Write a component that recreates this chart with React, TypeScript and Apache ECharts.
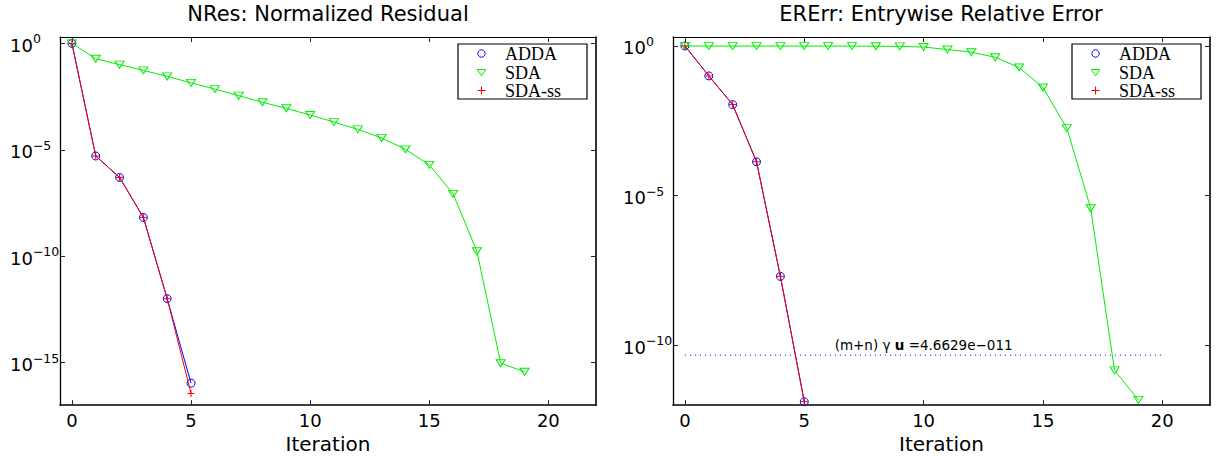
import React, { useEffect, useRef } from "react";
import * as echarts from "echarts";

// ---------- data ----------
const ITER_ADDA = [0, 1, 2, 3, 4, 5];
const ITER_SDA = [0, 1, 2, 3, 4, 5, 6, 7, 8, 9, 10, 11, 12, 13, 14, 15, 16, 17, 18, 19];

const NRES_ADDA = [1, 5.1e-6, 5.0e-7, 6.6e-9, 1.0e-12, 1.07e-16];
const NRES_SDA = [1, 0.19, 0.1, 0.054, 0.028, 0.014, 0.0071, 0.0035, 0.0017, 8.9e-4, 4.3e-4, 2.0e-4, 9.1e-5, 3.6e-5, 1.05e-5, 1.95e-6, 8.5e-8, 1.7e-10, 9.3e-16, 3.7e-16];
const NRES_SDASS = [1, 5.1e-6, 5.0e-7, 6.6e-9, 1.0e-12, 3.5e-17];

const ERERR_ADDA = [1, 0.1, 0.011, 1.35e-4, 2.0e-8, 1.3e-12];
const ERERR_SDA = [1, 0.99, 0.99, 0.99, 0.99, 0.99, 0.99, 0.99, 0.98, 0.97, 0.92, 0.76, 0.62, 0.42, 0.19, 0.041, 1.8e-3, 3.8e-6, 1.45e-11, 1.5e-12];
const ERERR_SDASS = [1, 0.1, 0.011, 1.35e-4, 2.0e-8, 1.3e-12];

const BOUND = 4.6629e-11;

const X_TICKS = [0, 5, 10, 15, 20];
const NRES_Y_EXP_TICKS = [0, -5, -10, -15];
const ERERR_Y_EXP_TICKS = [0, -5, -10];

const TITLES = ["NRes: Normalized Residual", "ERErr: Entrywise Relative Error"];
const NAMES = ["ADDA", "SDA", "SDA-ss"];
const X_NAME = "Iteration";

// ---------- style ----------
const SANS = "DejaVu Sans";
const SERIF = "Liberation Serif";
const BLUE = "#0000ff";
const GREEN = "#00ee00";
const RED = "#ff0000";
const TRI = "path://M0,0L10,0L5,8Z";
const PLUS = "path://M5,0L5,10M0,5L10,5";

const toLog = (xs: number[], vs: number[]) => xs.map((x, i) => [x, Math.log10(vs[i])]);

const fmtBound = (v: number) => {
  const [m, e] = v.toExponential(4).split("e");
  const n = parseInt(e, 10);
  const s = (n < 0 ? "\u2212" : "+") + String(Math.abs(n)).padStart(3, "0");
  return m + "e" + s;
};

const GRIDS = [
  { left: 60, top: 37, width: 536, height: 371 },
  { left: 673, top: 37, width: 537, height: 371 },
];

function makeXAxes(gi: number) {
  const common = {
    gridIndex: gi,
    type: "value",
    min: -0.5,
    max: 22,
    splitLine: { show: false },
    axisTick: { inside: true, length: 5, customValues: X_TICKS, lineStyle: { color: "#222", width: 1 } },
  };
  return [
    {
      ...common,
      position: "bottom",
      axisLine: { show: true, onZero: false, lineStyle: { color: "#000", width: 1.6 } },
      axisLabel: { customValues: X_TICKS, margin: 6, fontFamily: SANS, fontSize: 18, color: "#000" },
      name: X_NAME,
      nameLocation: "middle",
      nameGap: 24,
      nameTextStyle: { fontFamily: SANS, fontSize: 20, color: "#000" },
    },
    {
      ...common,
      position: "top",
      axisLine: { show: true, onZero: false, lineStyle: { color: "#000", width: 1 } },
      axisLabel: { show: false },
    },
  ];
}

function makeYAxes(gi: number, min: number, ticks: number[]) {
  const common = {
    gridIndex: gi,
    type: "value",
    min,
    max: 0.3,
    splitLine: { show: false },
    axisTick: { inside: true, length: 5, customValues: ticks, lineStyle: { color: "#222", width: 1 } },
  };
  return [
    {
      ...common,
      position: "left",
      axisLine: { show: true, onZero: false, lineStyle: { color: "#000", width: 1.3 } },
      axisLabel: {
        customValues: ticks,
        margin: 50,
        align: "left",
        formatter: (v: number) => {
          const e = Math.round(v);
          const s = e < 0 ? "\u2212" + String(-e) : String(e);
          return "{b|10}{s|" + s + "}";
        },
        rich: {
          b: { fontFamily: SANS, fontSize: 18, color: "#000", lineHeight: 22, verticalAlign: "bottom" },
          s: { fontFamily: SANS, fontSize: 12.5, color: "#000", lineHeight: 8, verticalAlign: "top" },
        },
      },
    },
    {
      ...common,
      position: "right",
      axisLine: { show: true, onZero: false, lineStyle: { color: "#000", width: 1.6 } },
      axisLabel: { show: false },
    },
  ];
}

function lineSeries(name: string, xi: number, yi: number, data: number[][], color: string, extra: any = {}) {
  return {
    name,
    type: "line",
    xAxisIndex: xi,
    yAxisIndex: yi,
    data,
    symbol: "none",
    silent: true,
    lineStyle: { color, width: 1 },
    itemStyle: { color },
    ...extra,
  };
}

function markerSeries(name: string, xi: number, yi: number, data: number[][], color: string, symbol: string, size: any) {
  return {
    name,
    type: "scatter",
    xAxisIndex: xi,
    yAxisIndex: yi,
    data,
    symbol,
    symbolSize: size,
    silent: true,
    itemStyle: { color: "rgba(0,0,0,0)", borderColor: color, borderWidth: 1, opacity: 1 },
  };
}

// legend box drawn with graphic elements (layout only, no data)
function legendGraphic(L: number) {
  const T = 44;
  const W = 129;
  const H = 55;
  const children: any[] = [
    { type: "rect", shape: { x: L, y: T, width: W, height: H }, style: { fill: "#fff", stroke: "#000", lineWidth: 1.2 } },
  ];
  NAMES.forEach((n, i) => {
    const cy = Math.round(T + 9.2 + i * 18.3) + 0.5;
    const cx = L + 23.5;
    if (i === 0) {
      children.push({ type: "circle", shape: { cx, cy, r: 3.7 }, style: { fill: "none", stroke: BLUE, lineWidth: 1 } });
    } else if (i === 1) {
      children.push({
        type: "polygon",
        shape: { points: [[cx - 4.3, cy - 3], [cx + 4.3, cy - 3], [cx, cy + 3.3]] },
        style: { fill: "none", stroke: GREEN, lineWidth: 1 },
      });
    } else {
      children.push({ type: "line", shape: { x1: cx - 4, y1: cy, x2: cx + 4, y2: cy }, style: { stroke: RED, lineWidth: 1 } });
      children.push({ type: "line", shape: { x1: cx, y1: cy - 4, x2: cx, y2: cy + 4 }, style: { stroke: RED, lineWidth: 1 } });
    }
    children.push({
      type: "text",
      style: { text: n, x: L + 47, y: cy, fill: "#000", fontFamily: SERIF, fontSize: 18, verticalAlign: "middle", align: "left" },
    });
  });
  return { type: "group", silent: true, z: 20, children };
}

export default function App() {
  const ref = useRef<HTMLDivElement>(null);

  useEffect(() => {
    if (!ref.current) return;
    const chart = echarts.init(ref.current, undefined, { renderer: "svg" });

    const boundLabel = "(m+n) \u03b3 {b|u} =" + fmtBound(BOUND);
    const boundY = Math.log10(BOUND);
    const x0 = X_TICKS[0];
    const x1 = X_TICKS[X_TICKS.length - 1];

    const option: any = {
      animation: false,
      backgroundColor: "#fff",
      title: [
        {
          text: TITLES[0],
          left: 328,
          top: 3,
          padding: 0,
          textAlign: "center",
          textStyle: { fontFamily: SANS, fontSize: 21, fontWeight: "normal", color: "#000" },
        },
        {
          text: TITLES[1],
          left: 941,
          top: 3,
          padding: 0,
          textAlign: "center",
          textStyle: { fontFamily: SANS, fontSize: 21, fontWeight: "normal", color: "#000" },
        },
      ],
      grid: GRIDS.map((g) => ({ ...g, show: false, containLabel: false })),
      graphic: [legendGraphic(458), legendGraphic(1072)],
      xAxis: [...makeXAxes(0), ...makeXAxes(1)],
      yAxis: [...makeYAxes(0, -17, NRES_Y_EXP_TICKS), ...makeYAxes(1, -12, ERERR_Y_EXP_TICKS)],
      series: [
        // left: NRes
        lineSeries("ADDA line L", 0, 0, toLog(ITER_ADDA, NRES_ADDA), BLUE),
        markerSeries("ADDA", 0, 0, toLog(ITER_ADDA, NRES_ADDA), BLUE, "circle", 8),
        lineSeries("SDA line L", 0, 0, toLog(ITER_SDA, NRES_SDA), GREEN),
        markerSeries("SDA", 0, 0, toLog(ITER_SDA, NRES_SDA), GREEN, TRI, [9, 7]),
        lineSeries("SDA-ss line L", 0, 0, toLog(ITER_ADDA, NRES_SDASS), RED),
        markerSeries("SDA-ss", 0, 0, toLog(ITER_ADDA, NRES_SDASS), RED, PLUS, 7),
        // right: ERErr
        lineSeries("bound", 2, 2, [[x0, boundY], [x1, boundY]], "#3333ff", {
          lineStyle: { color: "#3333ff", width: 1.1, type: [1, 4] },
          markLine: {
            silent: true,
            symbol: ["none", "none"],
            lineStyle: { color: "rgba(0,0,0,0)", width: 0, type: "solid" },
            label: {
              show: true,
              position: "middle",
              distance: 3,
              formatter: boundLabel,
              fontFamily: SANS,
              fontSize: 13.5,
              color: "#000",
              rich: { b: { fontFamily: SANS, fontSize: 13.5, fontWeight: "bold", color: "#000" } },
            },
            data: [[{ coord: [x0, boundY] }, { coord: [x1, boundY] }]],
          },
        }),
        lineSeries("ADDA line R", 2, 2, toLog(ITER_ADDA, ERERR_ADDA), BLUE),
        markerSeries("ADDA", 2, 2, toLog(ITER_ADDA, ERERR_ADDA), BLUE, "circle", 8),
        lineSeries("SDA line R", 2, 2, toLog(ITER_SDA, ERERR_SDA), GREEN),
        markerSeries("SDA", 2, 2, toLog(ITER_SDA, ERERR_SDA), GREEN, TRI, [9, 7]),
        lineSeries("SDA-ss line R", 2, 2, toLog(ITER_ADDA, ERERR_SDASS), RED),
        markerSeries("SDA-ss", 2, 2, toLog(ITER_ADDA, ERERR_SDASS), RED, PLUS, 7),
      ],
    };

    chart.setOption(option);
    return () => chart.dispose();
  }, []);

  return (
    <div
      ref={ref}
      style={{ position: "fixed", left: 0, top: 0, width: 1219, height: 459, background: "#fff" }}
    />
  );
}
